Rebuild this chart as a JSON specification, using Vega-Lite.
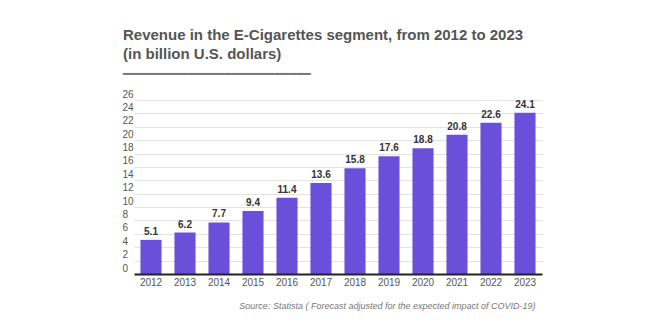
{
  "$schema": "https://vega.github.io/schema/vega-lite/v6.json",
  "autosize": "none",
  "width": 408,
  "height": 174,
  "padding": {"left": 134, "top": 100, "right": 118, "bottom": 56},
  "background": "white",
  "title": {
    "text": ["Revenue in the E-Cigarettes segment, from 2012 to 2023", "(in billion U.S. dollars)"],
    "subtitle": "━━━━━━━━━━━━━━━━━━━━━━━━━━",
    "anchor": "start",
    "frame": "group",
    "dx": -11,
    "offset": 9,
    "font": "Liberation Sans",
    "fontSize": 15,
    "fontWeight": "bold",
    "color": "#555555",
    "lineHeight": 19,
    "subtitleFont": "DejaVu Sans",
    "subtitleFontSize": 12,
    "subtitleColor": "#7a7a7a",
    "subtitlePadding": 7
  },
  "config": {
    "view": {"stroke": null},
    "font": "Liberation Sans"
  },
  "data": {
    "values": [
      {"year": "2012", "revenue": 5.1},
      {"year": "2013", "revenue": 6.2},
      {"year": "2014", "revenue": 7.7},
      {"year": "2015", "revenue": 9.4},
      {"year": "2016", "revenue": 11.4},
      {"year": "2017", "revenue": 13.6},
      {"year": "2018", "revenue": 15.8},
      {"year": "2019", "revenue": 17.6},
      {"year": "2020", "revenue": 18.8},
      {"year": "2021", "revenue": 20.8},
      {"year": "2022", "revenue": 22.6},
      {"year": "2023", "revenue": 24.1}
    ]
  },
  "encoding": {
    "x": {
      "field": "year",
      "type": "ordinal",
      "scale": {"paddingInner": 0.38, "paddingOuter": 0.19},
      "axis": {
        "title": "Source: Statista ( Forecast adjusted for the expected impact of COVID-19)",
        "titleFontStyle": "italic",
        "titleFontWeight": "normal",
        "titleFontSize": 9,
        "titleColor": "#777777",
        "titleAlign": "right",
        "titleAnchor": null,
        "titleX": 401,
        "titleY": 34,
        "titleBaseline": "alphabetic",
        "labelAngle": 0,
        "labelFontSize": 10,
        "labelColor": "#555555",
        "labelPadding": 3,
        "ticks": false,
        "domainColor": "#222222",
        "domainWidth": 2,
        "zindex": 1
      }
    },
    "y": {
      "field": "revenue",
      "type": "quantitative",
      "scale": {"domain": [0, 26], "nice": false},
      "axis": {
        "title": null,
        "values": [0, 2, 4, 6, 8, 10, 12, 14, 16, 18, 20, 22, 24, 26],
        "labelAlign": "left",
        "labelBaseline": "bottom",
        "labelPadding": 12,
        "labelOffset": -1,
        "labelFontSize": 10,
        "labelColor": "#555555",
        "ticks": false,
        "domain": false,
        "gridColor": "#e2e2e2",
        "gridWidth": 1
      }
    }
  },
  "layer": [
    {"mark": {"type": "bar", "color": "#6a4fdb"}},
    {
      "mark": {"type": "text", "baseline": "bottom", "dy": -3, "fontSize": 10, "fontWeight": "bold", "color": "#333333"},
      "encoding": {"text": {"field": "revenue", "type": "quantitative", "format": ".1f"}}
    }
  ]
}
